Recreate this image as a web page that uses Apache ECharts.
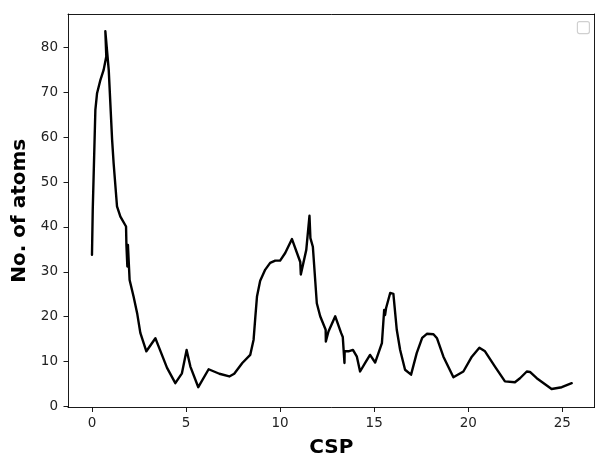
<!DOCTYPE html>
<html>
<head>
<meta charset="utf-8">
<script src="https://cdn.jsdelivr.net/npm/echarts@6/dist/echarts.min.js"></script>
<style>html,body{margin:0;padding:0;background:#fff}#c{width:595px;height:455px}</style>
</head>
<body>
<div id="c"></div>
<script>
// CSP values (x) and number of atoms (y), in drawing order
var csp = [0.0, 0.04, 0.18, 0.27, 0.45, 0.62, 0.76, 0.71, 0.89, 1.07, 1.15, 1.33, 1.51, 1.81, 1.83, 1.88, 1.91, 2.00, 2.21, 2.40, 2.57, 2.89,
  3.37, 3.54, 3.99, 4.43, 4.78, 5.03, 5.23, 5.65, 6.20, 6.77, 7.30, 7.56, 7.99, 8.41, 8.59, 8.68, 8.77, 8.94, 9.21, 9.47, 9.74, 10.0,
  10.27, 10.63, 11.07, 11.10, 11.39, 11.56, 11.61, 11.74, 11.95, 12.13, 12.42, 12.43, 12.57, 12.93, 13.24, 13.33, 13.42, 13.43, 13.63,
  13.87, 14.08, 14.25, 14.52, 14.78, 15.05, 15.41, 15.53, 15.58, 15.63, 15.85, 16.02, 16.20, 16.38, 16.64, 16.96, 17.26, 17.55, 17.80,
  18.15, 18.34, 18.68, 19.21, 19.74, 20.19, 20.59, 20.89, 21.42, 21.95, 22.48, 22.75, 23.11, 23.28, 23.64, 24.43, 24.97, 25.50];
var atoms = [33.8, 43.8, 66.1, 69.8, 72.8, 75.0, 78.0, 83.6, 75.0, 59.4, 54.2, 44.6, 42.3, 40.1, 36.0, 31.2, 36.0, 28.2, 24.5, 20.8, 16.4, 12.3,
  15.2, 13.4, 8.6, 5.2, 7.4, 12.6, 8.9, 4.3, 8.3, 7.3, 6.7, 7.3, 9.7, 11.5, 14.9, 19.8, 24.5, 28.0, 30.5, 32.0, 32.5, 32.5,
  34.2, 37.3, 32.2, 29.4, 34.9, 42.5, 37.5, 35.6, 23.0, 20.1, 17.1, 14.5, 16.7, 20.1, 16.4, 15.5, 9.7, 12.3, 12.3,
  12.6, 11.1, 7.8, 9.7, 11.5, 9.8, 14.1, 21.5, 20.4, 21.9, 25.3, 25.1, 17.1, 12.6, 8.2, 7.1, 11.9, 15.3, 16.2,
  16.1, 15.2, 11.1, 6.5, 7.8, 11.1, 13.1, 12.3, 8.9, 5.6, 5.4, 6.3, 7.8, 7.7, 6.3, 3.9, 4.3, 5.2];
var xTicks = [0, 5, 10, 15, 20, 25];
var yTicks = [0, 10, 20, 30, 40, 50, 60, 70, 80];
var xLabel = 'CSP';
var yLabel = 'No. of atoms';

var pts = csp.map(function (x, i) { return [x, atoms[i]]; });
var font = 'DejaVu Sans';
var chart = echarts.init(document.getElementById('c'), null, {renderer: 'canvas'});
function line() { return {show: true, onZero: false, lineStyle: {color: '#000', width: 0.9}}; }
chart.setOption({
  animation: false,
  backgroundColor: '#fff',
  grid: {left: 68, top: 14, width: 526.5, height: 393.5, containLabel: false, outerBoundsMode: 'none'},
  xAxis: [{
    type: 'value', min: -1.275, max: 26.71,
    position: 'bottom',
    name: xLabel, nameLocation: 'middle', nameGap: 30,
    nameTextStyle: {fontFamily: font, fontWeight: 'bold', fontSize: 20, color: '#000'},
    axisLine: line(),
    axisTick: {show: true, length: 4.5, lineStyle: {color: '#000', width: 0.9}, customValues: xTicks},
    axisLabel: {margin: 9, fontFamily: font, fontSize: 13.5, color: '#222', customValues: xTicks},
    splitLine: {show: false}
  }, {
    type: 'value', min: -1.275, max: 26.71, position: 'top',
    axisLine: line(), axisTick: {show: false}, axisLabel: {show: false}, splitLine: {show: false}
  }],
  yAxis: [{
    type: 'value', min: -0.22, max: 87.45,
    position: 'left',
    name: yLabel, nameLocation: 'middle', nameGap: 38, nameRotate: 90,
    nameTextStyle: {fontFamily: font, fontWeight: 'bold', fontSize: 20, color: '#000'},
    axisLine: line(),
    axisTick: {show: true, length: 4.5, lineStyle: {color: '#000', width: 0.9}, customValues: yTicks},
    axisLabel: {margin: 10, fontFamily: font, fontSize: 13.5, color: '#222', customValues: yTicks},
    splitLine: {show: false}
  }, {
    type: 'value', min: -0.22, max: 87.45, position: 'right',
    axisLine: line(), axisTick: {show: false}, axisLabel: {show: false}, splitLine: {show: false}
  }],
  graphic: [{
    type: 'rect', right: 5, top: 21,
    shape: {width: 12, height: 12, r: 2},
    style: {fill: '#fff', stroke: '#d0d0d0', lineWidth: 1.2}
  }],
  series: [{
    type: 'line', data: pts, xAxisIndex: 0, yAxisIndex: 0,
    showSymbol: false, symbol: 'none',
    lineStyle: {color: '#000', width: 2.4, join: 'round', cap: 'round'},
    clip: true
  }]
});
</script>
</body>
</html>
